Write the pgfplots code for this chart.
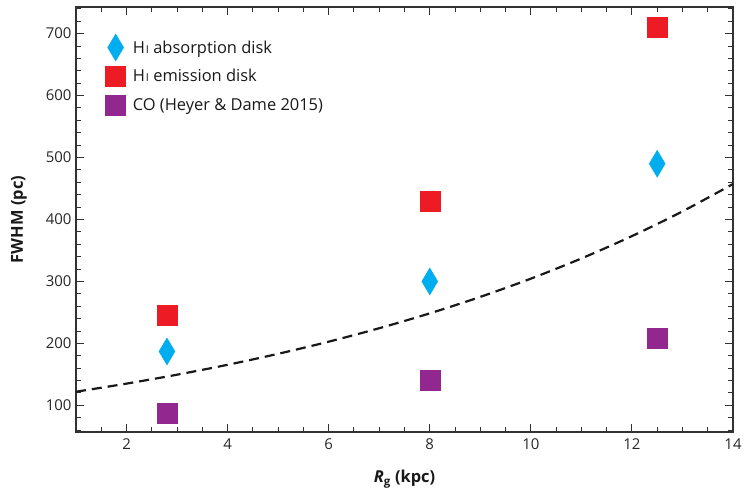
\documentclass[border=0pt]{standalone}
\usepackage{pgfplots}
\pgfplotsset{compat=1.18}
\usepackage{fontspec}
\setmainfont{Open Sans}

\definecolor{absblue}{RGB}{0,174,239}
\definecolor{emred}{RGB}{237,28,36}
\definecolor{copurple}{RGB}{146,39,143}
\definecolor{axisgray}{RGB}{50,50,50}

\newcommand{\HI}{H\kern0.06em{\fontsize{11}{12}\selectfont I}}

\begin{document}
\begin{tikzpicture}
\begin{axis}[
  name=main,
  scale only axis,
  width=657bp, height=425bp,
  xmin=1, xmax=14, ymin=57, ymax=743,
  xtick={2,4,...,14}, ytick={100,200,...,700},
  minor xtick={1,1.5,...,14},
  minor ytick={60,80,...,740},
  tick align=inside,
  major tick length=8bp, minor tick length=5bp,
  axis line style={line width=1.2bp, color=axisgray},
  every tick/.style={line width=1bp, color=axisgray},
  tick label style={font=\fontsize{15}{17}\selectfont, text=black!85},
  /pgf/number format/assume math mode=true,
  xticklabel style={yshift=-3bp},
  yticklabel style={xshift=-1bp},
  xlabel={\textbf{\textit{R}\textsubscript{\textbf{g}} (kpc)}},
  ylabel={\textbf{FWHM (pc)}},
  every axis x label/.style={at={(axis description cs:0.5,-0.12)}, anchor=base,
    font=\fontsize{16.5}{18}\selectfont, text=black!90},
  every axis y label/.style={at={(axis description cs:-0.081,0.5)}, rotate=90, anchor=base,
    font=\fontsize{16.5}{18}\selectfont, text=black!90},
  legend style={draw=none, fill=none, at={(0.04,0.942)}, anchor=north west,
    font=\fontsize{16.5}{18}\selectfont, row sep=1.5bp,
    nodes={inner sep=1bp}, text=black!90},
  legend cell align=left,
  legend image code/.code={%
    \path (-10bp,-13.5bp) (16bp,13.5bp);
    \draw[#1] plot coordinates {(0bp,0bp)};},
]

% HI absorption disk
\addplot[only marks, mark=diamond*, mark size=13.5bp, color=absblue,
  mark options={xscale=0.79, draw=none, fill=absblue}]
  coordinates {(2.8,187) (8,300) (12.5,490)};
\addlegendentry{\HI\ absorption disk}

% HI emission disk
\addplot[only marks, mark=square*, mark size=10bp, color=emred,
  mark options={draw=none, fill=emred}]
  coordinates {(2.8,245) (8,429) (12.5,711)};
\addlegendentry{\HI\ emission disk}

% CO
\addplot[only marks, mark=square*, mark size=10bp, color=copurple,
  mark options={draw=none, fill=copurple}]
  coordinates {(2.8,87) (8,140) (12.5,209)};
\addlegendentry{CO (Heyer \& Dame 2015)}

% scale-height relation
\addplot[black!90, line width=2.2bp, dash pattern=on 10bp off 6bp, smooth, forget plot]
  coordinates {(1,122) (2,135.1) (3,149.5) (4,165.5) (5,183.2) (6,202.8) (7,224.5)
               (8,248.5) (9,275.1) (10,304.5) (11,337.1) (12,373.2) (13,413.1) (14,457.3)};
\end{axis}
\useasboundingbox ([shift={(-76bp,-57bp)}]main.south west) rectangle ([shift={(12bp,7bp)}]main.north east);
\end{tikzpicture}
\end{document}
